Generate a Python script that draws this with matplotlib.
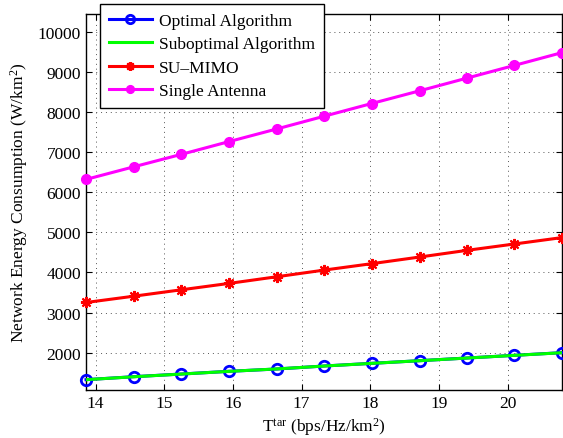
import matplotlib
matplotlib.use("Agg")
import matplotlib.pyplot as plt

plt.rcParams['font.family'] = ['Liberation Serif', 'DejaVu Serif']
plt.rcParams['mathtext.fontset'] = 'custom'
plt.rcParams['mathtext.rm'] = 'Liberation Serif'
plt.rcParams['mathtext.it'] = 'Liberation Serif:italic'

t_tar = [13.86, 14.56, 15.25, 15.94, 16.64, 17.33, 18.02, 18.72, 19.41, 20.10, 20.79]
optimal = [1327, 1402, 1468, 1535, 1593, 1668, 1734, 1800, 1867, 1934, 2000]
suboptimal = [1327, 1400, 1467, 1534, 1595, 1667, 1733, 1800, 1866, 1933, 1998]
su_mimo = [3250, 3408, 3567, 3725, 3892, 4058, 4217, 4383, 4550, 4708, 4867]
single_antenna = [6317, 6633, 6942, 7258, 7575, 7892, 8208, 8525, 8842, 9158, 9475]

xticks = [14, 15, 16, 17, 18, 19, 20]
yticks = [2000, 3000, 4000, 5000, 6000, 7000, 8000, 9000, 10000]

fs = 12.5
fig = plt.figure(figsize=(5.63, 4.39), dpi=100)
ax = fig.add_axes([0.1528, 0.110, 0.8452, 0.856])

lw = 2.2
ax.plot(t_tar, optimal, color='#0000ff', lw=lw, marker='o', ms=7.5, mfc='none',
        mec='#0000ff', mew=2.0, label='Optimal Algorithm', clip_on=False, zorder=3)
ax.plot(t_tar, suboptimal, color='#00ff00', lw=lw, label='Suboptimal Algorithm', zorder=4)
ax.plot(t_tar, su_mimo, color='#ff0000', lw=lw, marker=(8, 2, 0), ms=8, mew=1.5,
        mec='#ff0000', label='SU\u2013MIMO', clip_on=False, zorder=3)
ax.plot(t_tar, single_antenna, color='#ff00ff', lw=lw, marker='o', ms=7,
        mfc='#ff00ff', mec='#ff00ff', label='Single Antenna', clip_on=False, zorder=3)

ax.set_xlim(13.86, 20.79)
ax.set_ylim(1077, 10440)
ax.set_xticks(xticks)
ax.set_yticks(yticks)
ax.tick_params(direction='in', top=True, right=True, labelsize=fs, length=4, width=0.8)
ax.grid(True, linestyle=(0, (1, 4)), color='#555555', linewidth=0.7)
for s in ax.spines.values():
    s.set_linewidth(1.0)

ax.set_xlabel(r'T$^{\mathrm{tar}}$ (bps/Hz/km$^{2}$)', fontsize=fs, labelpad=3)
ax.set_ylabel(r'Network Energy Consumption (W/km$^{2}$)', fontsize=fs, labelpad=6)

leg = ax.legend(loc='upper left', bbox_to_anchor=(100 / 563, 1 - 5 / 439),
                bbox_transform=fig.transFigure, fontsize=fs, frameon=True,
                fancybox=False, edgecolor='black', framealpha=1, borderaxespad=0,
                handlelength=2.5, handletextpad=0.4, labelspacing=0.42,
                borderpad=0.5, markerscale=0.8)
leg.get_frame().set_linewidth(1.0)
leg.set_zorder(10)

fig.savefig('out.png', dpi=100)
